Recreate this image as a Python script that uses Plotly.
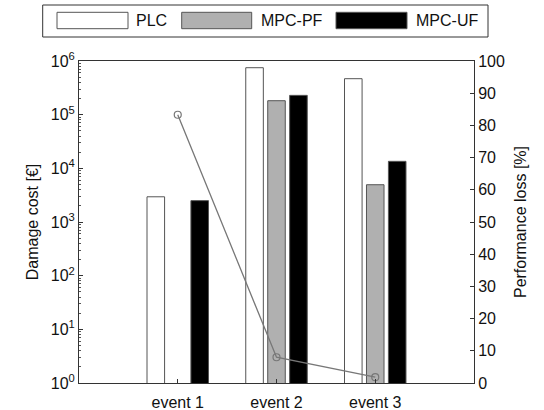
import plotly.graph_objects as go

events = ["event 1", "event 2", "event 3"]
plc = [2950, 750000, 468000]
mpc_pf = [None, 182000, 4950]
mpc_uf = [2500, 229000, 13500]
perf_loss = [83.3, 8.0, 1.8]
series_names = ["PLC", "MPC-PF", "MPC-UF"]
series_colors = ["#ffffff", "#b0b0b0", "#000000"]
log_tickvals = [1, 10, 100, 1000, 1e4, 1e5, 1e6]
log_ticktext = ["10<sup>0</sup>", "10<sup>1</sup>", "10<sup>2</sup>", "10<sup>3</sup>",
                "10<sup>4</sup>", "10<sup>5</sup>", "10<sup>6</sup>"]

W, H = 544, 410
L, R, T, B = 79, 474, 61, 383
FONT = "Liberation Sans, Arial, sans-serif"
FS = 16

def px(x):
    return (x - L) / (R - L)

def py(y):
    return (B - y) / (B - T)

fig = go.Figure()
for name, vals, col in zip(series_names, [plc, mpc_pf, mpc_uf], series_colors):
    fig.add_trace(go.Bar(x=events, y=vals, name=name, marker=dict(color=col, line=dict(color="#555555", width=1)),
                         showlegend=False))
fig.add_trace(go.Scatter(x=events, y=perf_loss, yaxis="y2", mode="lines+markers",
                         line=dict(color="#777777", width=1.3),
                         marker=dict(symbol="circle-open", size=7, color="#777777", line=dict(width=1.2)),
                         showlegend=False))

minor_vals = [m * 10 ** e for e in range(0, 6) for m in range(2, 10)]

fig.update_layout(
    width=W, height=H,
    margin=dict(l=L, r=W - R, t=T, b=H - B),
    plot_bgcolor="white", paper_bgcolor="white",
    barmode="group", bargap=0.333, bargroupgap=0.2,
    font=dict(family=FONT, size=FS, color="#111111"),
    xaxis=dict(range=[-1, 3], showline=True, linecolor="#333333", linewidth=1, mirror=True,
               ticks="inside", ticklen=4, tickcolor="#333333", showgrid=False, automargin=False,
               ticklabelstandoff=5, tickfont=dict(size=FS)),
    yaxis=dict(type="log", range=[0, 6], tickvals=log_tickvals, ticktext=log_ticktext,
               showline=True, linecolor="#333333", linewidth=1, ticks="inside", ticklen=4,
               tickcolor="#333333", showgrid=False, zeroline=False, automargin=False,
               minor=dict(tickvals=minor_vals, ticks="inside", ticklen=2, tickcolor="#555555"),
               title=dict(text="Damage cost [€]", standoff=8, font=dict(size=FS)),
               tickfont=dict(size=FS)),
    yaxis2=dict(overlaying="y", side="right", range=[0, 100], dtick=10, showline=True,
                linecolor="#333333", linewidth=1, ticks="inside", ticklen=4, tickcolor="#333333",
                showgrid=False, zeroline=False, automargin=False,
                title=dict(text="Performance loss [%]", standoff=10, font=dict(size=FS)),
                tickfont=dict(size=FS)),
)

# custom legend box
fig.add_shape(type="rect", xref="paper", yref="paper", x0=px(42.7), x1=px(488), y0=py(5), y1=py(37),
              line=dict(color="#333333", width=1), fillcolor="white", layer="above")
sw = [(57, 128, 134), (181.7, 251.7, 259), (336, 407, 414)]
for (x0, x1, tx), name, col in zip(sw, series_names, series_colors):
    fig.add_shape(type="rect", xref="paper", yref="paper", x0=px(x0), x1=px(x1), y0=py(12.3), y1=py(28.7),
                  line=dict(color="#555555", width=1), fillcolor=col, layer="above")
    fig.add_annotation(xref="paper", yref="paper", x=px(tx), y=py(21), text=name, showarrow=False,
                       xanchor="left", yanchor="middle", font=dict(size=FS, family=FONT))

fig.write_html("out.html")
